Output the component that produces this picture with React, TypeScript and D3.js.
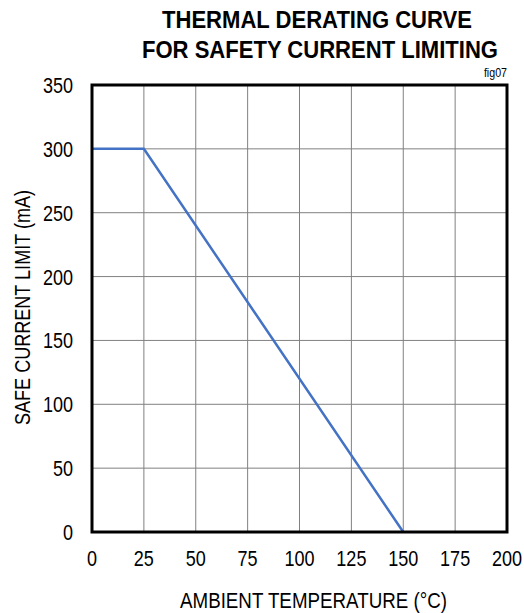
import React from "react";
import * as d3 from "d3";

const WIDTH = 524;
const HEIGHT = 613;
const M = { top: 85, right: 17, bottom: 81, left: 92 };

const temps = [0, 25, 150];
const currents = [300, 300, 0];
const xTicks = [0, 25, 50, 75, 100, 125, 150, 175, 200];
const yTicks = [0, 50, 100, 150, 200, 250, 300, 350];

const FONT = "'Liberation Sans', Arial, sans-serif";
const NARROW = 0.82;

// narrow text: Liberation Sans squeezed horizontally to look like Arial Narrow
const NText = ({ x, y, anchor = "start", size, weight = "normal", children }: any) => (
  <text
    transform={`translate(${x},${y}) scale(${NARROW},1)`}
    textAnchor={anchor}
    fontSize={size}
    fontWeight={weight}
  >
    {children}
  </text>
);

const App = () => {
  const x = d3.scaleLinear().domain([0, 200]).range([M.left, WIDTH - M.right]);
  const y = d3.scaleLinear().domain([0, 350]).range([HEIGHT - M.bottom, M.top]);

  const line = d3
    .line<number>()
    .x((_, i) => x(temps[i]))
    .y((d) => y(d));

  const plotW = WIDTH - M.right - M.left;
  const plotH = HEIGHT - M.bottom - M.top;

  return (
    <svg
      width={WIDTH}
      height={HEIGHT}
      style={{ position: "absolute", left: 0, top: 0, background: "white" }}
      fontFamily={FONT}
    >
      <text x={162} y={28} fontSize={23} fontWeight="bold" textLength={310} lengthAdjust="spacingAndGlyphs">
        THERMAL DERATING CURVE
      </text>
      <text x={142} y={58} fontSize={23} fontWeight="bold" textLength={356} lengthAdjust="spacingAndGlyphs">
        FOR SAFETY CURRENT LIMITING
      </text>
      <NText x={507} y={77} anchor="end" size={13}>
        fig07
      </NText>

      {/* grid */}
      {xTicks.map((t) => (
        <line key={"gx" + t} x1={x(t)} x2={x(t)} y1={M.top} y2={M.top + plotH} stroke="#808080" strokeWidth={1} />
      ))}
      {yTicks.map((t) => (
        <line key={"gy" + t} x1={M.left} x2={M.left + plotW} y1={y(t)} y2={y(t)} stroke="#808080" strokeWidth={1} />
      ))}

      <path d={line(currents) || ""} fill="none" stroke="#4472C4" strokeWidth={2.5} />

      <rect x={M.left} y={M.top} width={plotW} height={plotH} fill="none" stroke="black" strokeWidth={3} />

      {xTicks.map((t) => (
        <NText key={"tx" + t} x={x(t)} y={566} anchor="middle" size={22}>
          {t}
        </NText>
      ))}
      {yTicks.map((t) => (
        <NText key={"ty" + t} x={73} y={y(t) + 8} anchor="end" size={22}>
          {t}
        </NText>
      ))}

      <text x={180} y={608} fontSize={22} textLength={267} lengthAdjust="spacingAndGlyphs">
        AMBIENT TEMPERATURE (°C)
      </text>
      <text
        transform="translate(30, 425) rotate(-90)"
        fontSize={22}
        textLength={235}
        lengthAdjust="spacingAndGlyphs"
      >
        SAFE CURRENT LIMIT (mA)
      </text>
    </svg>
  );
};

export default App;
